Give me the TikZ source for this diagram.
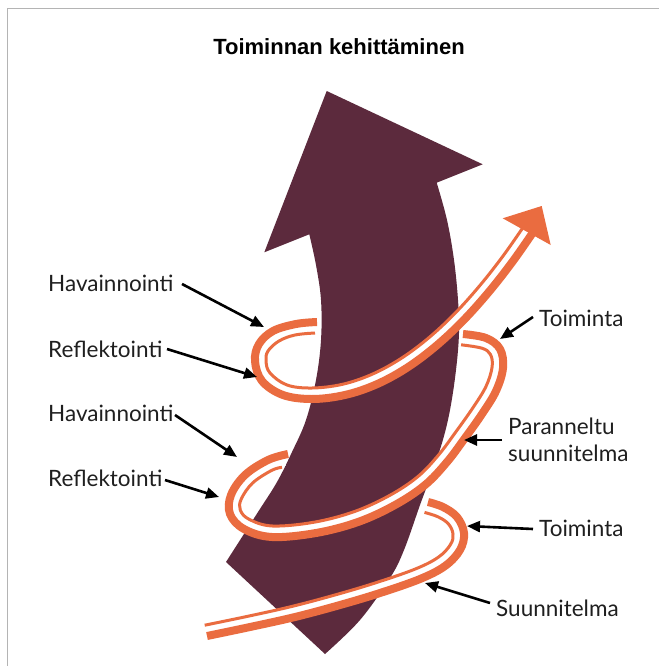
\documentclass[tikz,border=0pt]{standalone}
\usepackage{fontspec}
\setmainfont{Lato}
\newfontfamily\titlefont{Liberation Sans}
\usetikzlibrary{arrows.meta}
\definecolor{arrowmaroon}{HTML}{5C2A3D}
\definecolor{ribbon}{HTML}{EA6C40}
\definecolor{framegray}{HTML}{B4B4B4}
\begin{document}
\begin{tikzpicture}[x=1pt,y=-1pt,
  lbl/.style={font=\fontsize{22.5}{27}\selectfont, text=black!88, anchor=west, inner sep=0pt, align=left},
  pointer/.style={draw=black, line width=2.6pt, -{Triangle[length=13pt,width=11pt]}},
  thickrib/.style={draw=ribbon, line width=8pt},
  thinrib/.style={draw=ribbon, line width=3pt},
  gaprib/.style={draw=white, line width=10pt},
  smoothp/.style={smooth, tension=0.6}
]
\useasboundingbox (0,0) rectangle (659,666);
\fill[white] (0,0) rectangle (659,666);
% frame
\draw[framegray, line width=1pt] (7,666) -- (7,9) -- (659,9);
% title
\node[font=\titlefont\bfseries\fontsize{22}{26}\selectfont, inner sep=0pt] (title) at (339,47) {Toiminnan kehittäminen};
% big maroon arrow
\fill[arrowmaroon] (326.7,91) -- (482.7,164.3) -- (436.7,182.7)
  -- plot[smoothp] coordinates {(436.7,182.7) (447,220) (454,260) (458,300) (459,333) (456,370) (450,410) (442,443) (430,478) (420,505) (404,550) (390,578) (360,620) (325,654)}
  -- (226,562)
  -- plot[smoothp] coordinates {(226,562) (258,512) (277,482) (292,452) (306,420) (316,380) (321,340) (321,300) (316,265) (309.3,234.3)}
  -- (264.3,252.3) -- cycle;
% ribbon piece A (bottom)
\draw[gaprib] plot[smoothp] coordinates {(205.85,630.6) (248.85,621.65) (293.7,611.65) (338.5,599.7) (378.3,587.75) (417.9,573.9) (441.75,561.55) (455.25,547.25) (458.5,533.5) (452.7,520.45) (440.5,511.9) (426.25,507.2)};
\draw[thickrib] plot[smoothp] coordinates {(207,636) (250,627) (295,617) (340,605) (380,593) (420,579) (445,566) (460,550) (464,533) (457,517) (443,507) (428,502)};
\draw[thinrib] plot[smoothp] coordinates {(204.7,625.2) (247.7,616.3) (292.4,606.3) (337,594.4) (376.6,582.5) (415.8,568.8) (438.5,557.1) (450.5,544.5) (453,534) (448.4,523.9) (438,516.8) (424.5,512.4)};
% ribbon piece B (middle)
\draw[gaprib] plot[smoothp] coordinates {(285,460.65) (269.8,465.2) (248.8,479) (236.2,496.95) (235.15,512.05) (246.65,524.2) (272.3,531.5) (315.05,527.6) (356.15,516.8) (392.35,500.2) (421.5,480.75) (442.8,458.45) (460.55,434.75) (477.4,410.95) (491,388.7) (497.55,367.5) (495.2,351.7) (483.95,343.1) (462.05,339.4)};
\draw[thickrib] plot[smoothp] coordinates {(288,454) (268,460) (245,475) (231,495) (230,514) (244,529) (272,537) (316,533) (358,522) (395,505) (425,485) (447,462) (465,438) (482,414) (496,391) (503,368) (500,349) (486,338) (463,334)};
\draw[thinrib] plot[smoothp] coordinates {(282,467.3) (271.6,470.4) (252.6,483) (241.3,498.9) (240.3,510.1) (249.3,519.4) (272.6,526) (314.1,522.2) (354.3,511.6) (389.7,495.4) (418,476.5) (438.6,454.9) (456.1,431.5) (472.8,407.9) (486,386.4) (492.1,367) (490.4,354.4) (481.9,348.2) (461.1,344.8)};
% ribbon piece C (top)
\draw[gaprib] plot[smoothp] coordinates {(316,327.5) (295.5,329.5) (276,336) (263.5,347.5) (260.5,361) (266,377) (285,390) (312,393.5) (343.2,389.8) (373.3,379.8) (402.6,364.1) (430.6,343.4) (457.6,318.5) (483.4,289.9) (508.1,258.5) (531.4,225)};
\draw[thickrib] plot[smoothp] coordinates {(317,322) (296,324) (273,331) (259,344) (255,361) (262,381) (283,395) (312,399) (344.4,395.1) (375.5,384.8) (405.5,368.7) (434.1,347.6) (461.5,322.3) (487.6,293.4) (512.5,261.7) (536,228)};
\draw[thinrib] plot[smoothp] coordinates {(315,333) (295,335) (279,341) (268,351) (266,361) (270,373) (287,385) (311.9,388) (342,384.4) (371.1,374.7) (399.6,359.4) (427.1,339.2) (453.7,314.6) (479.2,286.3) (503.6,255.2) (526.8,221.9)};
\fill[ribbon] (502.7,218.3) -- (541.7,206) -- (550.7,245) -- cycle;
% labels
\node[lbl] (hav1) at (48,283) {Havainnointi};
\node[lbl] (ref1) at (48,349) {Reflektointi};
\node[lbl] (hav2) at (48,413) {Havainnointi};
\node[lbl] (ref2) at (48,478) {Reflektointi};
\node[lbl] (toi1) at (539,318) {Toiminta};
\node[lbl] (par) at (508,440) {Paranneltu\\suunnitelma};
\node[lbl] (toi2) at (539,528) {Toiminta};
\node[lbl] (suu) at (496,608) {Suunnitelma};
% pointer ends
\coordinate (hav1s) at (182,284); \coordinate (hav1t) at (264,327);
\coordinate (ref1s) at (167,349); \coordinate (ref1t) at (257,377);
\coordinate (hav2s) at (175,415); \coordinate (hav2t) at (237,457);
\coordinate (ref2s) at (165,480); \coordinate (ref2t) at (219,497);
\coordinate (toi1s) at (533,317); \coordinate (toi1t) at (500,339);
\coordinate (pars) at (502,440); \coordinate (part) at (464,440);
\coordinate (toi2s) at (533,529); \coordinate (toi2t) at (467,526);
\coordinate (suus) at (490,603); \coordinate (suut) at (425,583);
\draw[pointer] (hav1s) -- (hav1t);
\draw[pointer] (ref1s) -- (ref1t);
\draw[pointer] (hav2s) -- (hav2t);
\draw[pointer] (ref2s) -- (ref2t);
\draw[pointer] (toi1s) -- (toi1t);
\draw[pointer] (pars) -- (part);
\draw[pointer] (toi2s) -- (toi2t);
\draw[pointer] (suus) -- (suut);
\end{tikzpicture}
\end{document}
